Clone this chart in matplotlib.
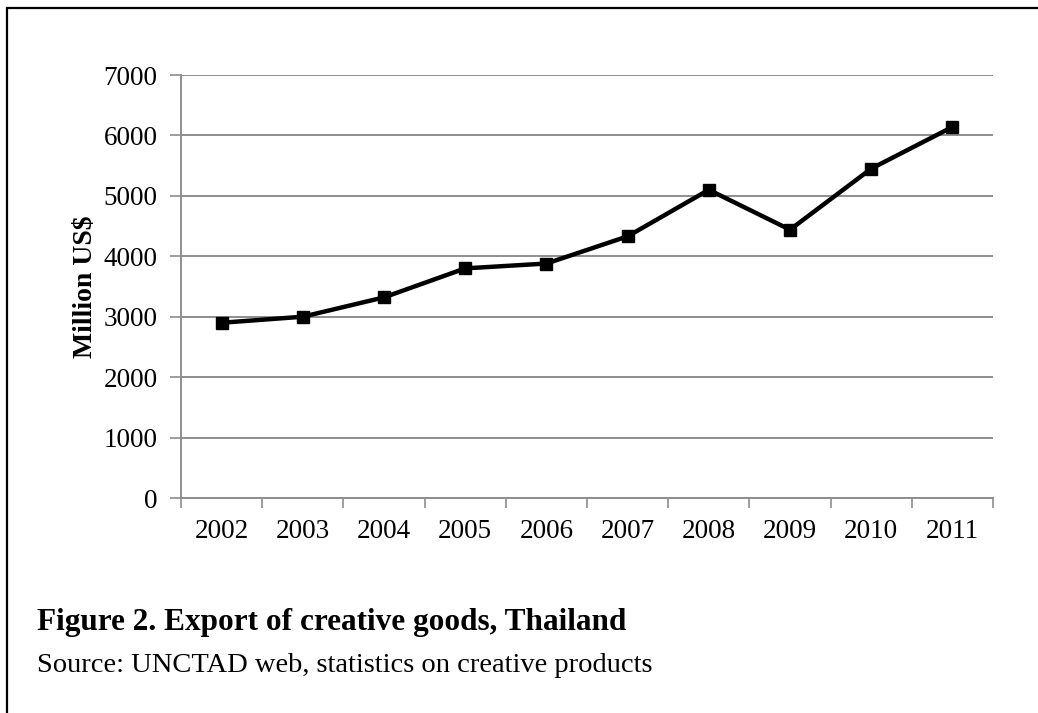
import matplotlib
matplotlib.use("Agg")
import matplotlib.pyplot as plt
from matplotlib.lines import Line2D
from matplotlib.ticker import FixedLocator

years = ["2002", "2003", "2004", "2005", "2006", "2007", "2008", "2009", "2010", "2011"]
exports = [2900, 3000, 3320, 3800, 3880, 4330, 5100, 4440, 5450, 6140]
y_ticks = [0, 1000, 2000, 3000, 4000, 5000, 6000, 7000]

plt.rcParams["font.family"] = ["Liberation Serif", "DejaVu Serif"]

W, H = 1038, 713
fig = plt.figure(figsize=(W / 100, H / 100), dpi=100)
ax = fig.add_axes([181 / W, 1 - 498 / H, (993 - 181) / W, (498 - 75) / H])

grid_col = "#8e8e8e"
x = list(range(len(years)))
ax.plot(x, exports, color="black", linewidth=3.2, marker="s",
        markersize=8.5, markerfacecolor="black", markeredgecolor="black",
        zorder=3, clip_on=False)

ax.set_xlim(-0.5, len(years) - 0.5)
ax.set_ylim(0, 7000)
ax.set_yticks(y_ticks)
ax.set_yticklabels([str(v) for v in y_ticks])
ax.yaxis.grid(True, color=grid_col, linewidth=1.4)
ax.set_axisbelow(True)

ax.set_xticks(x)
ax.set_xticklabels(years)
ax.xaxis.set_minor_locator(FixedLocator([i - 0.5 for i in range(len(years) + 1)]))
ax.tick_params(axis="x", which="major", length=0, pad=15, labelsize=19.5)
ax.tick_params(axis="x", which="minor", length=7, width=1.2, color=grid_col)
ax.tick_params(axis="y", length=8, width=1.2, color=grid_col, pad=9, labelsize=19.5)

for side in ("top", "right"):
    ax.spines[side].set_visible(False)
for side in ("left", "bottom"):
    ax.spines[side].set_color(grid_col)
    ax.spines[side].set_linewidth(1.4)

fig.text(86 / W, 1 - 287 / H, "Million US$", rotation=90, fontsize=20,
         fontweight="bold", ha="center", va="center")

fig.text(37 / W, 1 - 630 / H, "Figure 2. Export of creative goods, Thailand",
         fontsize=22.5, fontweight="bold", va="baseline", ha="left")
fig.text(37 / W, 1 - 672 / H, "Source: UNCTAD web, statistics on creative products",
         fontsize=20.5, va="baseline", ha="left")

# frame drawn on the left and top edges only
fx = 6.5 / W
fy = 1 - 7.5 / H
fig.add_artist(Line2D([fx, fx, 1.0], [0.0, fy, fy], transform=fig.transFigure,
                      color="black", linewidth=1.6, solid_joinstyle="miter"))

fig.savefig("out.png", dpi=100, facecolor="white")
